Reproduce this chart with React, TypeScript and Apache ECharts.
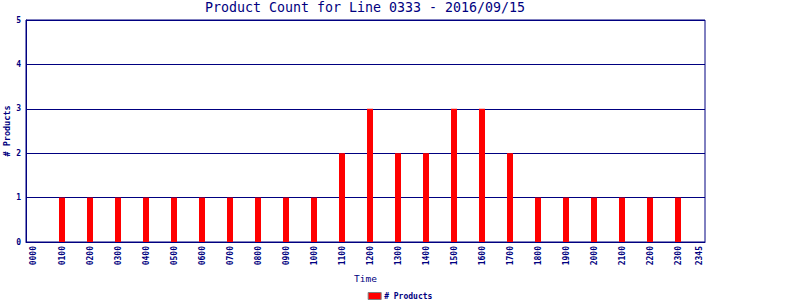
import React, { useEffect, useRef } from "react";
import * as echarts from "echarts";

const titleText = "Product Count for Line 0333 - 2016/09/15";
const seriesName = "# Products";
// hour positions of each bar and its product count
const barHours = [1, 2, 3, 4, 5, 6, 7, 8, 9, 10, 11, 12, 13, 14, 15, 16, 17, 18, 19, 20, 21, 22, 23];
const barCounts = [1, 1, 1, 1, 1, 1, 1, 1, 1, 1, 2, 3, 2, 2, 3, 3, 2, 1, 1, 1, 1, 1, 1];
// x tick positions (hours) and their labels
const xTickHours = [0, 1, 2, 3, 4, 5, 6, 7, 8, 9, 10, 11, 12, 13, 14, 15, 16, 17, 18, 19, 20, 21, 22, 23, 23.75];
const xTickLabels = [
  "0000", "0100", "0200", "0300", "0400", "0500", "0600", "0700", "0800", "0900",
  "1000", "1100", "1200", "1300", "1400", "1500", "1600", "1700", "1800", "1900",
  "2000", "2100", "2200", "2300", "2345",
];
const yMin = 0;
const yMax = 5;
const yInterval = 1;

const NAVY = "#000080";
const FONT = "'DejaVu Sans Mono', monospace";

export default function App() {
  const ref = useRef<HTMLDivElement>(null);
  useEffect(() => {
    if (!ref.current) return;
    const chart = echarts.init(ref.current, undefined, { renderer: "svg" });
    chart.setOption({
      animation: false,
      backgroundColor: "#ffffff",
      title: {
        text: titleText,
        left: 365,
        textAlign: "center",
        top: 1,
        padding: 0,
        textStyle: { fontFamily: FONT, fontSize: 13.3, fontWeight: "normal", color: NAVY },
      },
      legend: {
        left: "center",
        top: 287,
        icon: "rect",
        itemWidth: 13,
        itemHeight: 7,
        itemGap: 4,
        data: [{ name: seriesName, itemStyle: { color: "#ff0000", borderColor: "#808080", borderWidth: 1 } }],
        textStyle: { fontFamily: FONT, fontSize: 8, fontWeight: "bold", color: NAVY, padding: [0, 0, 0, -2] },
      },
      grid: {
        left: 26,
        right: 95,
        top: 20,
        bottom: 58,
        containLabel: false,
        outerBoundsMode: "none",
        show: true,
        borderColor: NAVY,
        borderWidth: 1,
        backgroundColor: "#ffffff",
      },
      xAxis: {
        type: "value",
        min: -0.2857,
        max: 23.964,
        name: "Time",
        nameLocation: "middle",
        nameGap: 31,
        nameMoveOverlap: false,
        nameTextStyle: { fontFamily: FONT, fontSize: 9.5, color: NAVY },
        axisLine: { show: true, onZero: false, lineStyle: { color: NAVY, width: 1 } },
        axisTick: { show: false },
        splitLine: { show: false },
        axisLabel: {
          customValues: xTickHours,
          rotate: 90,
          margin: 4,
          fontFamily: FONT,
          fontSize: 8,
          fontWeight: "bold",
          color: NAVY,
          formatter: (v: number) => {
            const i = xTickHours.indexOf(v);
            return i >= 0 ? xTickLabels[i] : "";
          },
        },
      },
      yAxis: {
        type: "value",
        min: yMin,
        max: yMax,
        interval: yInterval,
        name: seriesName,
        nameLocation: "middle",
        nameGap: 15,
        nameRotate: 90,
        nameMoveOverlap: false,
        nameTextStyle: { fontFamily: FONT, fontSize: 8.5, fontWeight: "bold", color: NAVY },
        axisLine: { show: true, onZero: false, lineStyle: { color: NAVY, width: 1 } },
        axisTick: { show: false },
        splitLine: { show: true, lineStyle: { color: NAVY, width: 1 } },
        axisLabel: { margin: 5, fontFamily: FONT, fontSize: 8, fontWeight: "bold", color: NAVY },
      },
      series: [
        {
          name: seriesName,
          type: "bar",
          barWidth: 6,
          itemStyle: { color: "#ff0000" },
          data: barHours.map((h, i) => [h, barCounts[i]]),
        },
      ],
    });
    return () => chart.dispose();
  }, []);
  return (
    <div
      ref={ref}
      style={{ position: "fixed", left: 0, top: 0, width: 800, height: 300, background: "#fff" }}
    />
  );
}
